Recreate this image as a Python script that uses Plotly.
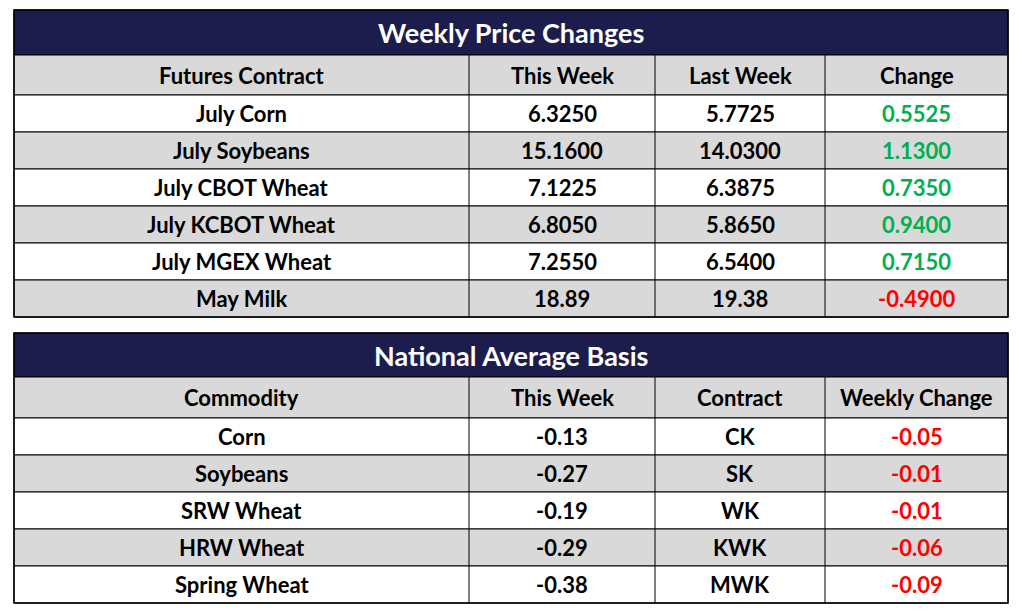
import plotly.graph_objects as go

# --- data ---
price_title = "Weekly Price Changes"
price_header = ["Futures Contract", "This Week", "Last Week", "Change"]
price_contract = ["July Corn", "July Soybeans", "July CBOT Wheat", "July KCBOT Wheat",
                  "July MGEX Wheat", "May Milk"]
price_this = ["6.3250", "15.1600", "7.1225", "6.8050", "7.2550", "18.89"]
price_last = ["5.7725", "14.0300", "6.3875", "5.8650", "6.5400", "19.38"]
price_change = [0.5525, 1.1300, 0.7350, 0.9400, 0.7150, -0.4900]

basis_title = "National Average Basis"
basis_header = ["Commodity", "This Week", "Contract", "Weekly Change"]
basis_commodity = ["Corn", "Soybeans", "SRW Wheat", "HRW Wheat", "Spring Wheat"]
basis_this = ["-0.13", "-0.27", "-0.19", "-0.29", "-0.38"]
basis_contract = ["CK", "SK", "WK", "KWK", "MWK"]
basis_change = [-0.05, -0.01, -0.01, -0.06, -0.09]

NAVY = "#1c1d4d"
GREY = "#d9d9d9"
GREEN = "#00b050"
RED = "#ff0000"
FONT = "Lato"
COLS = [14, 469, 655, 825, 1008]

shapes = []
annotations = []


def text(x, y, s, color="black", size=22):
    annotations.append(dict(x=x, y=y, text="<b>%s</b>" % s, showarrow=False,
                            xref="x", yref="y", xanchor="center", yanchor="middle",
                            font=dict(family=FONT, size=size, color=color)))


def draw_table(top, title, header, rows, changes, fmt, title_h=45, head_h=40, row_h=37):
    y = top
    shapes.append(dict(type="rect", x0=COLS[0], x1=COLS[-1], y0=y, y1=y + title_h,
                       fillcolor=NAVY, line=dict(color="black", width=1)))
    text((COLS[0] + COLS[-1]) / 2, y + title_h / 2, title, "white", 27)
    y += title_h
    lines = [(y, y + head_h, GREY, header, ["black"] * 4)]
    y += head_h
    for i, r in enumerate(rows):
        c = GREEN if changes[i] >= 0 else RED
        lines.append((y, y + row_h, "white" if i % 2 == 0 else GREY,
                      list(r) + [fmt(changes[i])], ["black"] * 3 + [c]))
        y += row_h
    for y0, y1, fill, vals, colors in lines:
        shapes.append(dict(type="rect", x0=COLS[0], x1=COLS[-1], y0=y0, y1=y1,
                           fillcolor=fill, line=dict(color="black", width=1)))
        for j in range(4):
            text((COLS[j] + COLS[j + 1]) / 2, (y0 + y1) / 2, vals[j], colors[j], 22)
    for x in COLS[1:-1]:
        shapes.append(dict(type="line", x0=x, x1=x, y0=top + title_h, y1=y,
                           line=dict(color="black", width=1)))
    shapes.append(dict(type="rect", x0=COLS[0], x1=COLS[-1], y0=top, y1=y,
                       line=dict(color="black", width=1.5)))


draw_table(10, price_title, price_header,
           list(zip(price_contract, price_this, price_last)), price_change,
           lambda v: "%.4f" % v)
draw_table(333, basis_title, basis_header,
           list(zip(basis_commodity, basis_this, basis_contract)), basis_change,
           lambda v: "%.2f" % v, title_h=44, head_h=41)

fig = go.Figure()
fig.update_layout(
    width=1022, height=614,
    margin=dict(l=0, r=0, t=0, b=0),
    paper_bgcolor="white", plot_bgcolor="white",
    # page body adds an 8px offset, so shift the visible window by the same amount
    xaxis=dict(range=[8, 1030], visible=False, fixedrange=True),
    yaxis=dict(range=[622, 8], visible=False, fixedrange=True),
    shapes=shapes, annotations=annotations, showlegend=False,
)
fig.write_html("out.html")
